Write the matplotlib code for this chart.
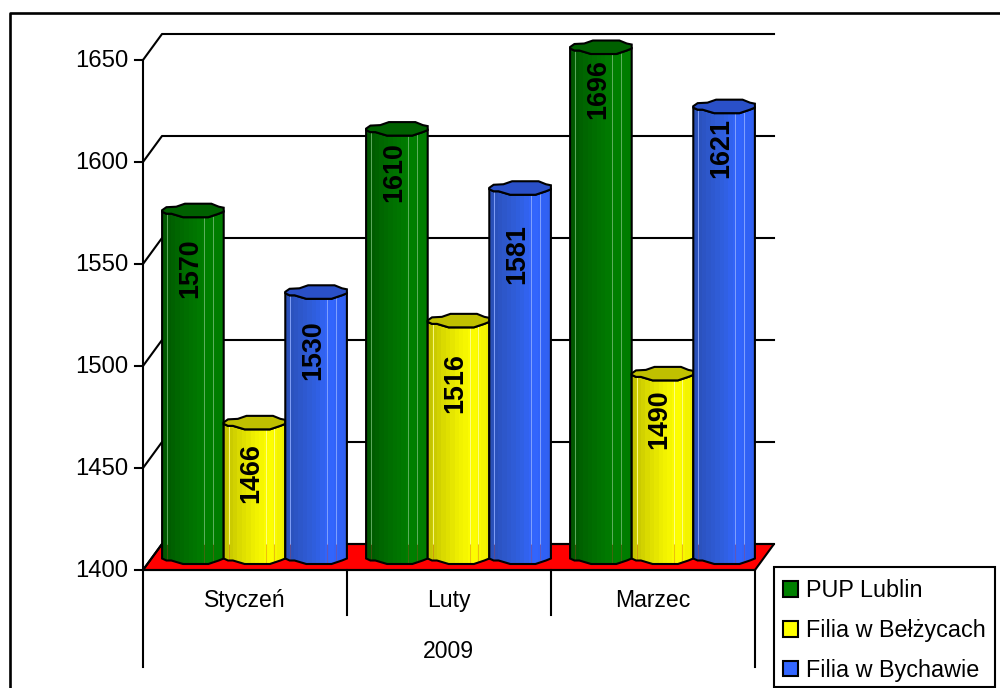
import numpy as np
import matplotlib
matplotlib.use('Agg')
import matplotlib.pyplot as plt
from matplotlib.colors import LinearSegmentedColormap
from matplotlib.patches import Patch, Polygon, Rectangle

plt.rcParams['font.family'] = ['Liberation Sans', 'DejaVu Sans']

# data
months = ['Styczeń', 'Luty', 'Marzec']
year = '2009'
series = ['PUP Lublin', 'Filia w Bełżycach', 'Filia w Bychawie']
pup_lublin = [1570, 1610, 1696]
filia_belzyce = [1466, 1516, 1490]
filia_bychawa = [1530, 1581, 1621]
y_ticks = [1400, 1450, 1500, 1550, 1600, 1650]

# styling per series: gradient across the cylinder, lid, legend
gradients = [['#005800', '#006800', '#007400', '#008000', '#007c00'],
             ['#c4c400', '#dcdc00', '#f0f000', '#ffff00', '#eeee00'],
             ['#2a50b8', '#2e58cc', '#3060e0', '#3366ff', '#3060f0']]
lid_colors = ['#006000', '#c0c000', '#2a50c8']
legend_colors = ['#008000', '#ffff00', '#3366ff']
line_colors = ['#6fb86f', '#ffff99', '#8fabff']
label_drop = [[58, 43, 42], [51, 63, 46], [58, 66, 42]]  # px below lid

# pixel scale of the front plane
PX_X = 204.0   # px per category
PX_Y = 2.04    # px per unit
DX = 19 / PX_X
DY = 26 / PX_Y
YMIN, YMAX = 1400, 1650
BAR_W = 61.6 / PX_X
LW = 1.5


def px_w(p):
    return p / PX_X


def px_h(p):
    return p / PX_Y


fig = plt.figure(figsize=(10, 6.88), dpi=100)
ax = fig.add_axes([0, 0, 1, 1])
xlim = (-143 / PX_X, (1000 - 143) / PX_X)
ylim = (YMIN - (688 - 570) / PX_Y, YMIN + 570 / PX_Y)

# chart border, runs off the right and bottom of the picture
ax.plot([0.0095, 0.0095, 1.0], [0, 1 - 13 / 688, 1 - 13 / 688], color='black', lw=1.9,
        transform=ax.transAxes, clip_on=False)

# floor and back wall grid
ncat = len(months)
ax.add_patch(Polygon([(0, YMIN), (DX, YMIN + DY), (ncat + DX, YMIN + DY), (ncat, YMIN)],
                     facecolor='#ff0000', edgecolor='black', lw=LW, zorder=1))
for t in y_ticks:
    ax.plot([-px_w(8), 0, DX, ncat + DX], [t, t, t + DY, t + DY], color='black', lw=LW, zorder=1)

# axis lines and category separators
ax.plot([0, 0], [YMAX, YMIN - px_h(97)], color='black', lw=LW, zorder=2)
ax.plot([0, ncat], [YMIN, YMIN], color='black', lw=LW, zorder=2)
for i in range(1, ncat):
    ax.plot([i, i], [YMIN, YMIN - px_h(45)], color='black', lw=LW, zorder=2)
ax.plot([ncat, ncat], [YMIN, YMIN - px_h(97)], color='black', lw=LW, zorder=2)

for t in y_ticks:
    ax.text(-px_w(15), t - px_h(1), str(t), ha='right', va='center', fontsize=17.2)
for i, m in enumerate(months):
    ax.text(i + 0.5, YMIN - px_h(30), m, ha='center', va='center', fontsize=16.6)
ax.text(ncat / 2 - px_w(1), YMIN - px_h(81), year, ha='center', va='center', fontsize=16.6)

# outline profile of the faceted cylinder, px from the centre line
u_back = [0, .07, .23, .37, .80, .92, 1]
off_back = [0, 3, 3.5, 6.5, 6.5, 3.5, 2.5]
u_front = [0, .07, .15, .34, .75, .92, 1]
off_front = [-1.5, -3.5, -3.5, -7, -7, -3.5, -1.5]
u = np.array(sorted(set(u_back + u_front)))


def draw_bar(x0, value, s, z):
    top = min(value, YMAX) + DY / 2
    base = YMIN + DY / 2
    xs = x0 + u * BAR_W
    front = px_h(np.interp(u, u_front, off_front))
    back = px_h(np.interp(u, u_back, off_back))

    # body with gradient clipped to the outline
    body = np.concatenate([np.column_stack([xs, top + front]),
                           np.column_stack([xs[::-1], (base + front)[::-1]])])
    patch = Polygon(body, facecolor='none', edgecolor='black', lw=LW, zorder=z + 0.2)
    clip = Polygon(body, transform=ax.transData, facecolor='none', edgecolor='none')
    cmap = LinearSegmentedColormap.from_list('bar', gradients[s])
    im = ax.imshow(np.linspace(0, 1, 14)[None, :], cmap=cmap, aspect='auto', zorder=z,
                   extent=[x0, x0 + BAR_W, base - px_h(10), top + px_h(10)],
                   interpolation='nearest')
    im.set_clip_path(clip)

    # thin highlights on facet edges, red tinted in front of the floor
    floor_back = YMIN + DY
    for f in [.08, .68, .82]:
        xf = x0 + f * BAR_W
        ft = top + np.interp(f, u_front, off_front) / PX_Y
        fb = base + np.interp(f, u_front, off_front) / PX_Y
        ax.plot([xf, xf], [floor_back, ft], color=line_colors[s], lw=0.6, zorder=z + 0.1)
        ax.plot([xf, xf], [fb, floor_back], color='#c84030', lw=0.5, alpha=0.45, zorder=z + 0.1)
    ax.add_patch(patch)

    # lid
    lid = np.concatenate([np.column_stack([xs, top + back]),
                          np.column_stack([xs[::-1], (top + front)[::-1]])])
    ax.add_patch(Polygon(lid, facecolor=lid_colors[s], edgecolor='black', lw=LW, zorder=z + 0.3))


values = [pup_lublin, filia_belzyce, filia_bychawa]
for i in range(ncat):
    for s in range(len(series)):
        x0 = i + 0.5 + DX / 2 + (s - 1.5) * BAR_W
        z = 3 + i * 3 + s
        draw_bar(x0, values[s][i], s, z)
        y_lab = min(values[s][i], YMAX) + DY / 2 - px_h(label_drop[s][i])
        ax.text(x0 + BAR_W / 2 - px_w(3), y_lab, str(values[s][i]), rotation=90,
                ha='center', va='center', fontsize=19.4, fontweight='bold',
                color='black', zorder=20)

ax.set_xlim(xlim)
ax.set_ylim(ylim)
ax.axis('off')

# legend box drawn on its own, entries sit a little low inside it
fig.add_artist(Rectangle((774 / 1000, 1 / 688), 221 / 1000, 120 / 688, transform=fig.transFigure,
                         facecolor='white', edgecolor='black', lw=LW))
handles = [Patch(facecolor=c, edgecolor='black', lw=LW) for c in legend_colors]
leg = fig.legend(handles, series, loc='lower left', bbox_to_anchor=(774 / 1000, -3 / 688),
                 borderaxespad=0, fontsize=16.8, frameon=False, handlelength=0.65,
                 handleheight=0.65, handletextpad=0.34, labelspacing=0.72, borderpad=0.39)

fig.savefig('out.png', dpi=100)
